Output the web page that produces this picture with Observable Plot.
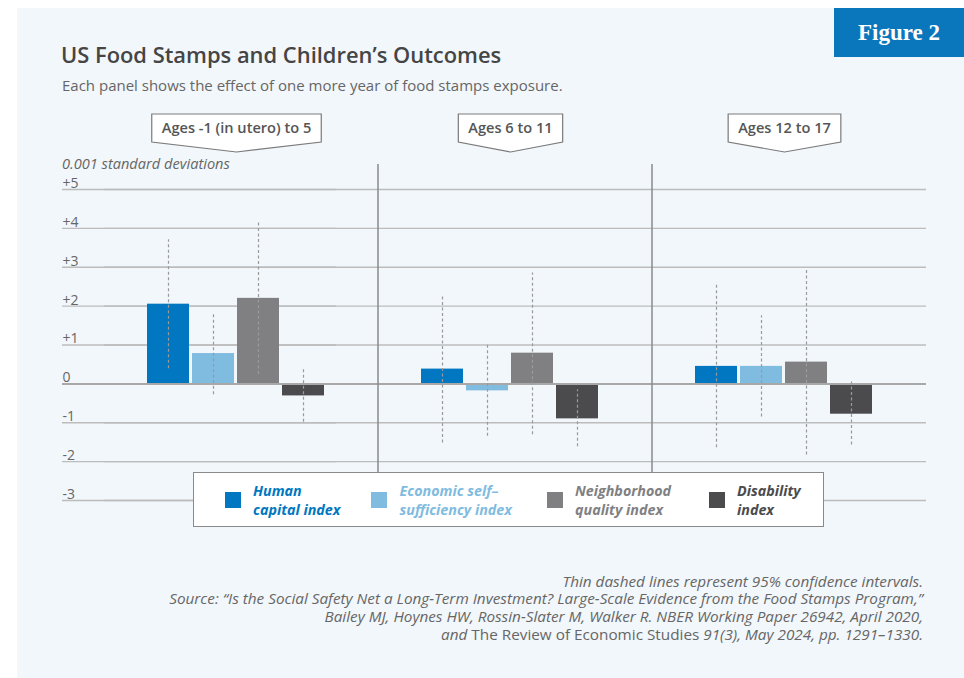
<!DOCTYPE html>
<html>
<head>
<meta charset="utf-8">
<script src="https://cdn.jsdelivr.net/npm/d3@7"></script>
<script src="https://cdn.jsdelivr.net/npm/@observablehq/plot@0.6"></script>
<style>
  body { margin: 0; background: #fff; font-family: "Open Sans", "Noto Sans", sans-serif; }
  #wrap { position: relative; width: 964px; height: 678px; overflow: hidden; background: #fff; }
  #panel { position: absolute; left: 17px; top: 8px; width: 947px; height: 670px; background: #f2f7fb; }
  #badge { position: absolute; left: 834px; top: 8px; width: 130px; height: 49px; background: #0a77bd;
           color: #fff; font-family: "Liberation Serif", serif; font-weight: bold; font-size: 23px;
           line-height: 49px; text-align: center; }
  #title { position: absolute; left: 61px; top: 40.5px; font-size: 21.9px; line-height: 27px; font-weight: 600; color: #454545; white-space: nowrap; }
  #subtitle { position: absolute; left: 62px; top: 75.5px; font-size: 15px; line-height: 19px; color: #666; white-space: nowrap; }
  #unit { position: absolute; left: 62px; top: 156.2px; font-size: 14.6px; line-height: 14px; height: 14px; font-style: italic; color: #666; white-space: nowrap; }
  #chart { position: absolute; left: 0; top: 100px; }
  #legend { position: absolute; left: 193px; top: 472px; width: 631px; height: 55px; box-sizing: border-box;
            background: #fff; border: 1.5px solid #8a8a8a; z-index: 5; }
  .item { position: absolute; top: 0; height: 52px; }
  .sw { position: absolute; top: 18.5px; width: 16px; height: 16px; }
  .lab { position: absolute; top: 7.8px; left: 28.5px; font-size: 14.3px; font-weight: bold; font-style: italic; white-space: nowrap; }
  .lab div { height: 19.5px; line-height: 19.5px; }
  #caption { position: absolute; right: 41px; top: 572.5px; text-align: right; font-size: 15.3px; line-height: 17.9px; font-style: italic; color: #666; white-space: nowrap; }
  #caption .up { font-style: normal; }
</style>
</head>
<body>
<div id="wrap">
  <div id="panel"></div>
  <div id="badge">Figure 2</div>
  <div id="title">US Food Stamps and Children’s Outcomes</div>
  <div id="subtitle">Each panel shows the effect of one more year of food stamps exposure.</div>
  <div id="unit">0.001 standard deviations</div>
  <div id="chart"></div>
  <div id="legend"></div>
  <div id="caption"></div>
</div>
<script>
// ---- data ----
const groups = ["Ages -1 (in utero) to 5", "Ages 6 to 11", "Ages 12 to 17"];
const series = ["Human capital index", "Economic self-sufficiency index", "Neighborhood quality index", "Disability index"];
const legendLines = [["Human", "capital index"], ["Economic self–", "sufficiency index"], ["Neighborhood", "quality index"], ["Disability", "index"]];
const seriesColors = ["#0077c0", "#80bbe0", "#808083", "#4b4b4d"];

const humanCapital = [2.05, 0.38, 0.45];
const economicSelfSufficiency = [0.78, -0.18, 0.45];
const neighborhoodQuality = [2.2, 0.79, 0.56];
const disability = [-0.31, -0.9, -0.78];

const humanCapitalLo = [0.39, -1.52, -1.64];
const humanCapitalHi = [3.71, 2.28, 2.54];
const economicLo = [-0.28, -1.35, -0.85];
const economicHi = [1.83, 1.02, 1.75];
const neighborhoodLo = [0.24, -1.31, -1.83];
const neighborhoodHi = [4.18, 2.85, 2.93];
const disabilityLo = [-0.99, -1.62, -1.57];
const disabilityHi = [0.40, -0.15, 0.05];

const yTicks = [5, 4, 3, 2, 1, 0, -1, -2, -3];
const captionLines = [
  "Thin dashed lines represent 95% confidence intervals.",
  "Source: “Is the Social Safety Net a Long-Term Investment? Large-Scale Evidence from the Food Stamps Program,”",
  "Bailey MJ, Hoynes HW, Rossin-Slater M, Walker R. NBER Working Paper 26942, April 2020,"
];
const captionLast = ["and ", "The Review of Economic Studies", " 91(3), May 2024, pp. 1291–1330."];

// ---- table ----
const valueSets = [humanCapital, economicSelfSufficiency, neighborhoodQuality, disability];
const loSets = [humanCapitalLo, economicLo, neighborhoodLo, disabilityLo];
const hiSets = [humanCapitalHi, economicHi, neighborhoodHi, disabilityHi];
const rows = [];
groups.forEach((g, gi) => series.forEach((s, si) => rows.push({
  group: g, series: s, value: valueSets[si][gi], lo: loSets[si][gi], hi: hiSets[si][gi]
})));

const fmt = d => d > 0 ? "+" + d : String(d);
const FONT = "'Open Sans', 'Noto Sans', sans-serif";
const gridTicks = yTicks.filter(d => d !== 0);
const firstPanel = () => groups[0];

const plot = Plot.plot({
  width: 964, height: 440,
  marginLeft: 104, marginRight: 38, marginTop: 89, marginBottom: 40,
  style: { background: "transparent", fontFamily: FONT, color: "#666" },
  fx: { domain: groups, padding: 0, axis: null },
  x: { domain: series, axis: null, paddingInner: 0.077, paddingOuter: 1.05, align: 0.44 },
  y: { domain: [-3, 5], axis: null },
  color: { domain: series, range: seriesColors },
  marks: [
    Plot.ruleY(gridTicks, { stroke: "#bcbcbc", strokeWidth: 1.3 }),
    // extend the grid lines to the left edge of the chart (first panel only)
    Plot.ruleY(gridTicks, { fx: firstPanel, dx: -42, stroke: "#bcbcbc", strokeWidth: 1.3 }),
    Plot.axisY(yTicks, { anchor: "left", tickSize: 0, tickPadding: 42, textAnchor: "start", dy: -6,
      fill: "#666", fontSize: 14, tickFormat: fmt, label: null }),
    Plot.barY(rows, { fx: "group", x: "series", y: "value", fill: "series" }),
    Plot.ruleY([0], { stroke: "#a8a8a8", strokeWidth: 2 }),
    Plot.ruleY([0], { fx: firstPanel, dx: -42, stroke: "#a8a8a8", strokeWidth: 2 }),
    Plot.ruleX(rows, { fx: "group", x: "series", y1: "lo", y2: "hi", stroke: "#9a9a9a", strokeWidth: 1.2, strokeDasharray: "3,2.5" })
  ]
});
document.getElementById("chart").appendChild(plot);

// ---- panel separators and panel labels, positioned from the plot's scales ----
const fxS = plot.scale("fx"), xS = plot.scale("x"), yS = plot.scale("y");
const svg = d3.select(plot);
const fx0 = fxS.apply(groups[0]);
groups.slice(1).forEach(g => {
  const px = fxS.apply(g);
  svg.append("line").attr("x1", px).attr("x2", px)
    .attr("y1", yS.apply(5) - 25).attr("y2", yS.apply(-3))
    .attr("stroke", "#8a8a8a").attr("stroke-width", 1.5);
});
groups.forEach(g => {
  const off = fxS.apply(g) - fx0;
  const left = off + xS.apply(series[0]);
  const right = off + xS.apply(series[series.length - 1]) + xS.bandwidth;
  const cx = (left + right) / 2 + 1;
  const top = yS.apply(5) - 75, side = yS.apply(5) - 47, tip = yS.apply(5) - 37;
  const gEl = svg.append("g");
  const poly = gEl.append("path");
  const t = gEl.append("text").attr("x", cx).attr("y", (top + side) / 2).attr("dy", "0.36em")
    .attr("text-anchor", "middle").attr("fill", "#555").attr("font-size", 14.6).attr("font-weight", 600)
    .attr("font-family", FONT).text(g);
  const w = t.node().getComputedTextLength() + 20;
  poly.attr("d", `M${cx - w / 2},${top}H${cx + w / 2}V${side}L${cx},${tip}L${cx - w / 2},${side}Z`)
    .attr("fill", "#fff").attr("stroke", "#7a7a7a").attr("stroke-width", 1.2);
});

// ---- legend ----
const legend = d3.select("#legend");
const legendX = [30.5, 177, 352.5, 514.5];
series.forEach((s, i) => {
  const it = legend.append("div").attr("class", "item").style("left", legendX[i] + "px");
  it.append("div").attr("class", "sw").style("background", seriesColors[i]);
  const lab = it.append("div").attr("class", "lab").style("color", seriesColors[i]);
  legendLines[i].forEach(l => lab.append("div").text(l));
});

// ---- caption ----
const cap = d3.select("#caption");
captionLines.forEach(l => cap.append("div").text(l));
const last = cap.append("div");
last.append("span").text(captionLast[0]);
last.append("span").attr("class", "up").text(captionLast[1]);
last.append("span").text(captionLast[2]);
</script>
</body>
</html>
